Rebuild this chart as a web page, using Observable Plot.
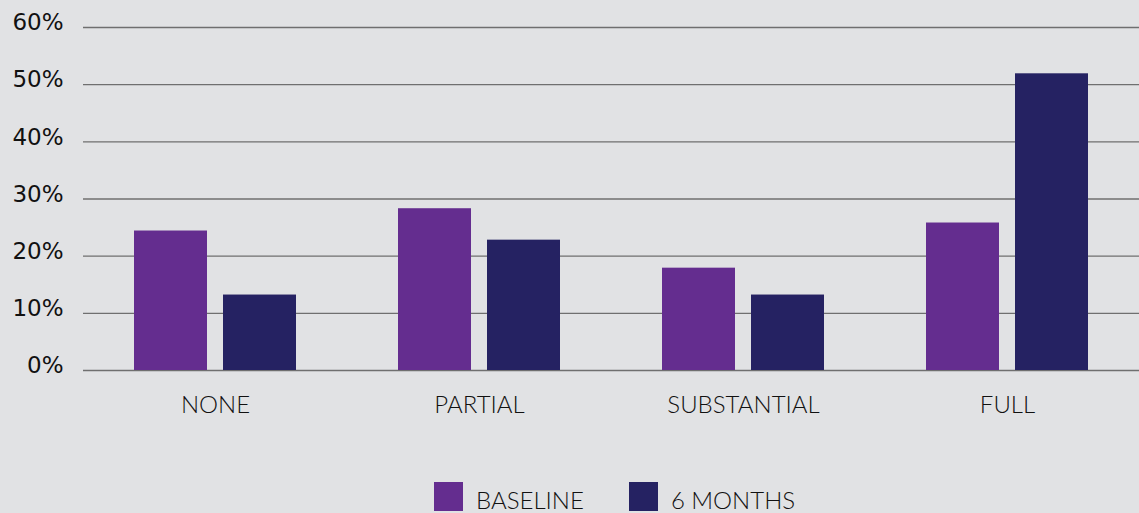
<!DOCTYPE html>
<html>
<head>
<meta charset="utf-8">
<script src="https://cdn.jsdelivr.net/npm/d3@7"></script>
<script src="https://cdn.jsdelivr.net/npm/@observablehq/plot@0.6"></script>
<style>
  html, body { margin: 0; padding: 0; background: #e1e2e4; }
  #chart { width: 1139px; }
  svg g[aria-label^="y-axis"] text { font-family: "DejaVu Sans", sans-serif; font-size: 23px; font-weight: 400; fill: #111; }
  svg g[aria-label^="fx-axis"] text { font-family: Lato, sans-serif; font-size: 24px; font-weight: 300; fill: #111; }
  .legend { display: flex; align-items: center; margin-top: 37px; padding-left: 434px;
            font-family: Lato, sans-serif; font-weight: 300; font-size: 24px; color: #111; line-height: 1; }
  .legend .item { display: flex; align-items: center; margin-right: 45px; }
  .legend .sw { width: 29px; height: 29px; margin-right: 13px; }
  .legend .lab { position: relative; top: 3px; }
</style>
</head>
<body>
<div id="chart"></div>
<script>
const categories = ["NONE", "PARTIAL", "SUBSTANTIAL", "FULL"];
const seriesNames = ["BASELINE", "6 MONTHS"];
const baseline = [24.4, 28.3, 17.9, 25.8];
const sixMonths = [13.2, 22.8, 13.2, 51.9];
const yTicks = [0, 10, 20, 30, 40, 50, 60];
const colors = ["#642d8f", "#252262"];

const data = [];
categories.forEach((c, i) => {
  data.push({category: c, series: seriesNames[0], value: baseline[i]});
  data.push({category: c, series: seriesNames[1], value: sixMonths[i]});
});

const plot = Plot.plot({
  width: 1139,
  height: 445,
  marginTop: 27,
  marginBottom: 75,
  marginLeft: 82,
  marginRight: 0,
  style: {background: "#e1e2e4", fontFamily: "Lato, sans-serif", fontSize: "22px", color: "#111"},
  fx: {domain: categories, padding: 0, label: null, tickSize: 0, tickPadding: 25},
  x: {domain: seriesNames, paddingInner: 0.18, paddingOuter: 0.573, axis: null},
  y: {domain: [0, 60], ticks: yTicks, tickFormat: d => d + "%", tickSize: 0, tickPadding: 20, label: null},
  color: {domain: seriesNames, range: colors},
  facet: {data, x: "category"},
  marks: [
    Plot.ruleY(yTicks, {stroke: "#6f6f6f", strokeWidth: 1.4}),
    Plot.barY(data, {x: "series", y: "value", fill: "series"})
  ]
});
document.getElementById("chart").appendChild(plot);
d3.select(plot).selectAll('g[aria-label^="y-axis"] text').attr("dy", "-0.2em");

const legend = d3.select("#chart").append("div").attr("class", "legend");
const color = plot.scale("color");
color.domain.forEach((name, i) => {
  const it = legend.append("div").attr("class", "item");
  it.append("div").attr("class", "sw").style("background", color.range[i]);
  it.append("span").attr("class", "lab").text(name);
});
</script>
</body>
</html>
